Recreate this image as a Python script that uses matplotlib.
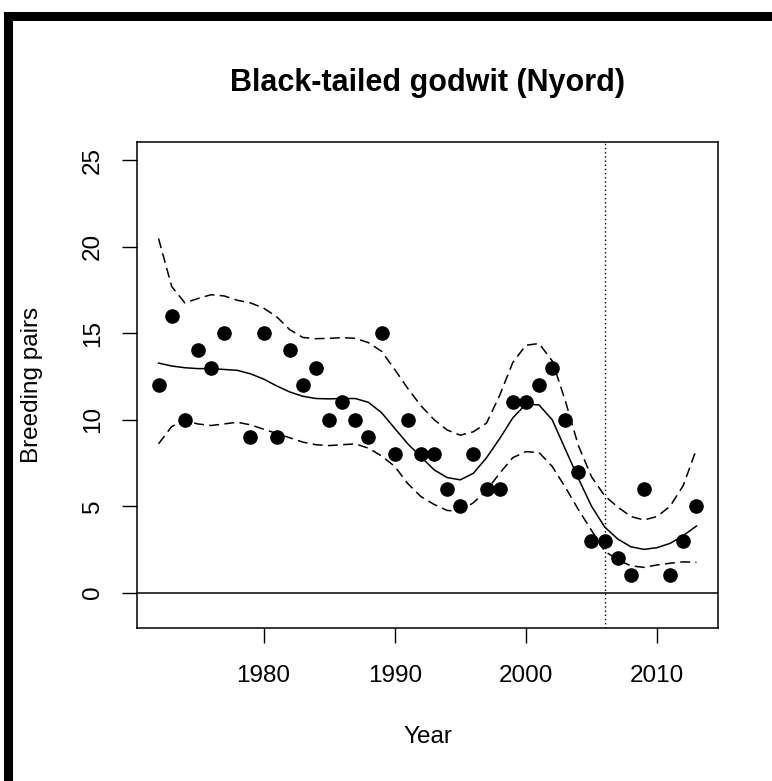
import matplotlib
matplotlib.use("Agg")
import matplotlib.pyplot as plt
from matplotlib.lines import Line2D
import numpy as np

plt.rcParams['font.family'] = ['Liberation Sans', 'DejaVu Sans']

# observed counts
obs_years = [1972, 1973, 1974, 1975, 1976, 1977, 1979, 1980, 1981, 1982,
             1983, 1984, 1985, 1986, 1987, 1988, 1989, 1990, 1991, 1992,
             1993, 1994, 1995, 1996, 1997, 1998, 1999, 2000, 2001, 2002,
             2003, 2004, 2005, 2006, 2007, 2008, 2009, 2011, 2012, 2013]
obs_pairs = [12, 16, 10, 14, 13, 15, 9, 15, 9, 14,
             12, 13, 10, 11, 10, 9, 15, 8, 10, 8,
             8, 6, 5, 8, 6, 6, 11, 11, 12, 13,
             10, 7, 3, 3, 2, 1, 6, 1, 3, 5]

# fitted trend and confidence band
fit_years = list(range(1972, 2014))
fit = [13.27, 13.1, 13.0, 12.95, 12.95, 12.9, 12.85, 12.65, 12.35, 11.95,
       11.6, 11.35, 11.22, 11.2, 11.22, 11.22, 11.0, 10.4, 9.5, 8.6,
       7.85, 7.1, 6.65, 6.52, 6.9, 7.8, 8.9, 10.1, 10.9, 10.85,
       10.0, 8.3, 6.6, 5.0, 3.8, 3.1, 2.65, 2.5, 2.6, 2.85,
       3.3, 3.85]
upper = [20.47, 17.7, 16.75, 17.0, 17.22, 17.15, 16.9, 16.75, 16.45, 15.95,
         15.2, 14.75, 14.68, 14.7, 14.74, 14.7, 14.45, 13.95, 12.9, 11.8,
         10.8, 10.0, 9.4, 9.1, 9.3, 9.8, 11.4, 13.3, 14.3, 14.4,
         13.4, 11.1, 8.5, 6.7, 5.6, 4.95, 4.4, 4.2, 4.4, 5.0,
         6.2, 8.3]
lower = [8.6, 9.6, 9.95, 9.75, 9.66, 9.75, 9.85, 9.7, 9.45, 9.2,
         8.95, 8.7, 8.55, 8.5, 8.55, 8.6, 8.35, 7.9, 7.3, 6.3,
         5.55, 5.1, 4.75, 4.7, 5.2, 5.9, 6.9, 7.8, 8.15, 8.1,
         7.3, 6.1, 4.8, 3.6, 2.4, 1.9, 1.55, 1.46, 1.6, 1.7,
         1.78, 1.75]

break_year = 2006
xticks = [1980, 1990, 2000, 2010]
yticks = [0, 5, 10, 15, 20, 25]

fig = plt.figure(figsize=(7.72, 7.81), dpi=100)
ax = fig.add_axes([0.1775, 0.196, 0.7525, 0.622])

ax.plot(fit_years, fit, color="black", lw=1.1)
ax.plot(fit_years, upper, color="black", lw=1.1, dashes=(6.5, 3.5))
ax.plot(fit_years, lower, color="black", lw=1.1, dashes=(6.5, 3.5))
ax.plot(obs_years, obs_pairs, "o", color="black", ms=9.5)
ax.axhline(0, color="black", lw=1.1)
ax.axvline(break_year, color="black", lw=1.0, linestyle=(0, (1, 2)))

# R style limits (4% padding)
xr = max(obs_years) - min(obs_years)
ax.set_xlim(min(obs_years) - 0.04 * xr, max(obs_years) + 0.04 * xr)
ax.set_ylim(-1 - 0.04 * 26, 25 + 0.04 * 26)

ax.set_xticks(xticks)
ax.set_yticks(yticks)
ax.tick_params(direction="out", length=11, width=1, labelsize=17.5)
ax.tick_params(axis="x", pad=16)
ax.tick_params(axis="y", labelrotation=90, pad=13)
for lab in ax.get_yticklabels():
    lab.set_verticalalignment("center")
for s in ax.spines.values():
    s.set_linewidth(1.1)

ax.set_xlabel("Year", fontsize=17.5, labelpad=28)
ax.set_ylabel("Breeding pairs", fontsize=17.5, labelpad=28)
ax.set_title("Black-tailed godwit (Nyord)", fontsize=22, fontweight="bold", pad=37)

# outer frame
fig.add_artist(Line2D([8 / 772, 8 / 772], [0, 1 - 16 / 781], color="black", lw=6.5,
                      transform=fig.transFigure, solid_capstyle="projecting"))
fig.add_artist(Line2D([8 / 772, 1], [1 - 16 / 781, 1 - 16 / 781], color="black", lw=6.5,
                      transform=fig.transFigure, solid_capstyle="projecting"))

fig.savefig("out.png", dpi=100)
